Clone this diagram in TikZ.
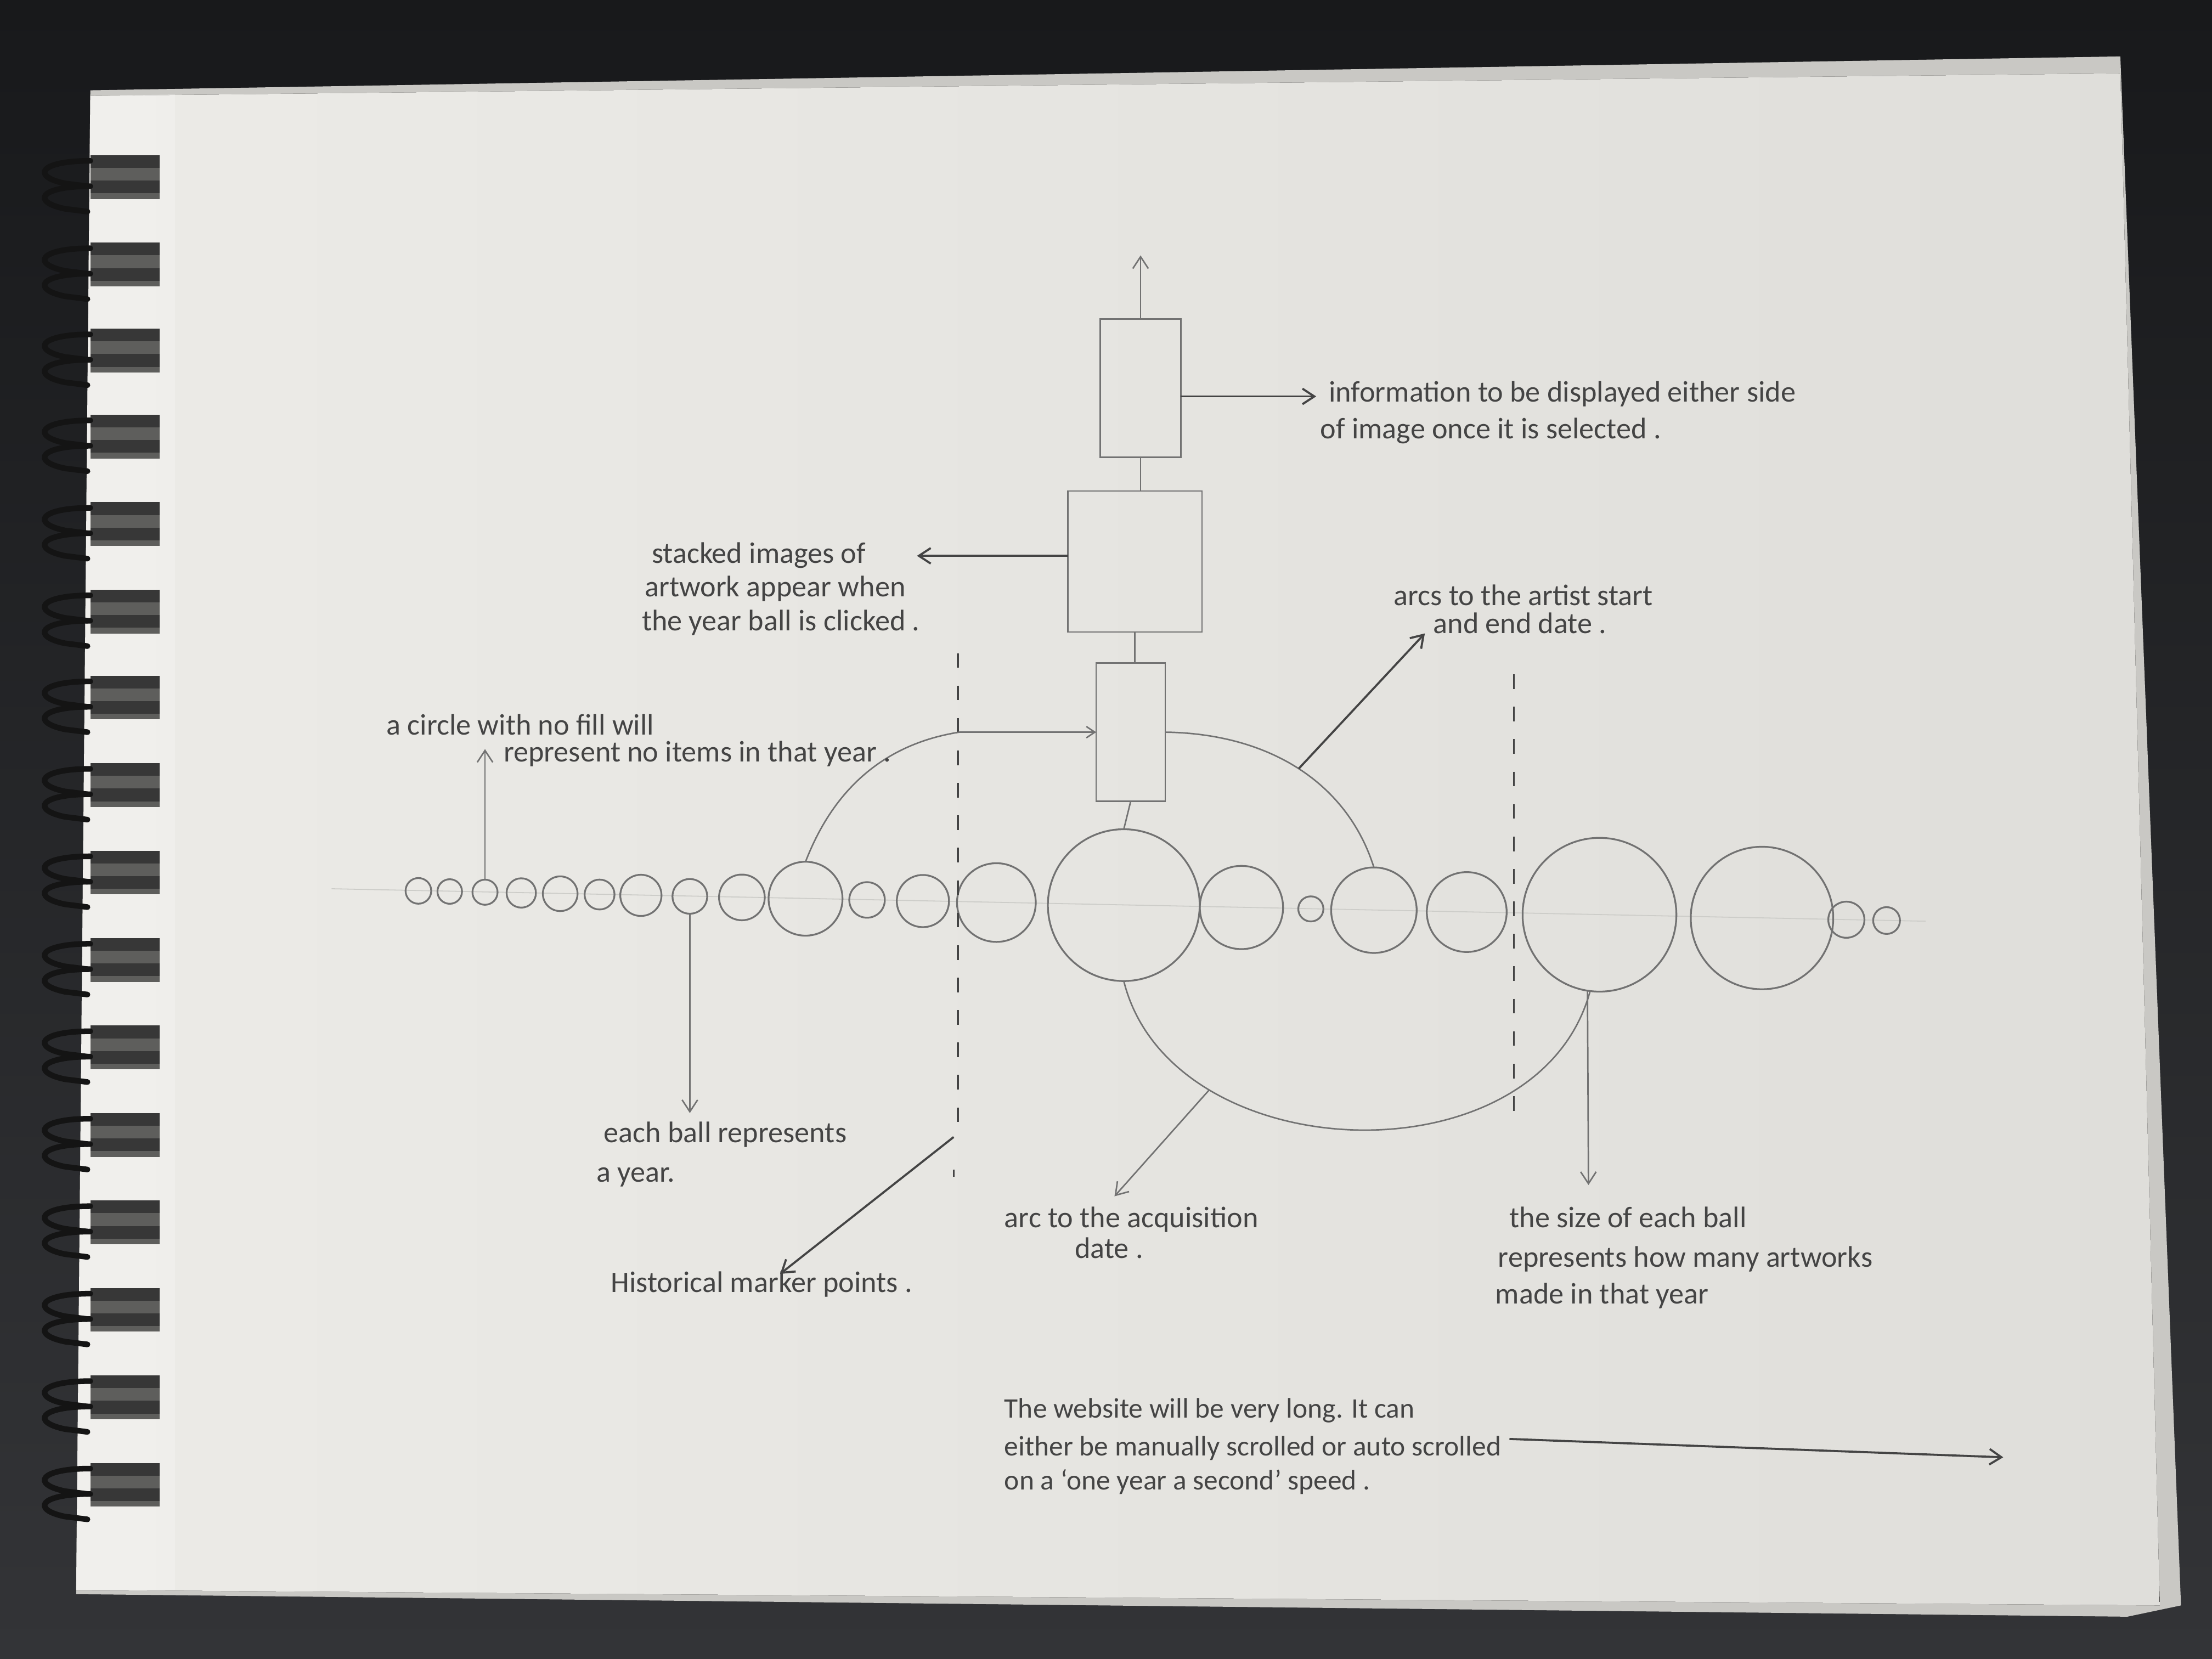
\documentclass[tikz,border=0pt]{standalone}
\usepackage{fontspec}
\setmainfont{Carlito}
\usetikzlibrary{arrows.meta}
\definecolor{deskTop}{HTML}{18191B}
\definecolor{deskBot}{HTML}{333437}
\definecolor{paperL}{HTML}{ECEBE7}
\definecolor{paperR}{HTML}{DFDEDA}
\definecolor{sheet}{HTML}{C9C8C4}
\definecolor{pencil}{HTML}{727272}
\definecolor{ink}{HTML}{444444}
\definecolor{guide}{HTML}{CDCDC9}
\definecolor{wire}{HTML}{141414}
\definecolor{holeshade}{HTML}{5E5E5C}
\begin{document}
\begin{tikzpicture}[x=0.05cm,y=-0.05cm,
  pen/.style={draw=pencil,line width=1.5pt},
  ball/.style={circle,draw=pencil,line width=1.8pt,inner sep=0pt,outer sep=0pt},
  panel/.style={rectangle,draw=pencil,line width=1.5pt,inner sep=0pt,outer sep=0pt},
  lead/.style={draw=ink,line width=2.1pt,-{Straight Barb[length=0.42cm,width=0.55cm]}},
  thinlead/.style={draw=pencil,line width=1.5pt,-{Straight Barb[length=0.42cm,width=0.55cm]}},
  note/.style={anchor=base west,inner sep=0pt,outer sep=0pt,text=ink,font=\fontsize{30}{36}\selectfont},
  smallnote/.style={note,font=\fontsize{28.5}{34}\selectfont},
  marker/.style={draw=ink,line width=1.8pt,dash pattern=on 0.52cm off 0.63cm},
  ringwire/.style={draw=wire,line width=0.2cm,line cap=round}
]
\useasboundingbox (0,0) rectangle (1568,1176);
% desk
\fill[top color=deskTop,bottom color=deskBot] (0,0) rectangle (1568,1176);
% sheets of the pad
\fill[sheet] (64,64) -- (1503,40) -- (1546,1138) -- (1508,1146) -- (54,1130) -- cycle;
\fill[left color=paperL,right color=paperR] (64,68) -- (1503,52) -- (1531,1138) -- (54,1127) -- cycle;
\fill[paperL!60!white,opacity=0.5] (64,68) -- (124,67) -- (124,1127) -- (54,1127) -- cycle;
% spiral binding
\foreach \ry in {113,175,236,297,359,421,482,544,606,668,730,792,854,916,978,1040} {
  \fill[holeshade] (64,\ry) rectangle (113,\ry+28);
  \fill[wire!85] (64,\ry-3) rectangle (113,\ry+6);
  \fill[wire!85] (64,\ry+15) rectangle (113,\ry+24);
  \draw[ringwire] (64,\ry+1) .. controls (28,\ry+1) and (22,\ry+12) .. (46,\ry+17) -- (62,\ry+19);
  \draw[ringwire] (64,\ry+19) .. controls (28,\ry+19) and (22,\ry+30) .. (46,\ry+35) -- (62,\ry+37);
}
% guideline of the timeline
\draw[guide,line width=1pt] (235,630) -- (1365,653);
% year balls
\foreach \n/\bx/\r in {1/296.6/9.1, 2/318.8/8.7, 3/343.8/8.9, 4/369.5/10.4, 5/397.1/12.3,
  6/425.0/10.6, 7/454.3/14.6, 8/489.0/12.3, 9/525.9/16.2, 10/571.0/26.2, 11/614.6/12.6,
  12/654.2/18.5, 13/706.3/27.9, 14/796.6/53.8, 15/880.0/29.5, 16/929.2/8.9, 17/973.9/30.3,
  18/1039.7/28.3, 19/1133.8/54.5, 20/1249.0/50.5, 21/1308.8/12.8, 22/1337.3/9.5} {
  \node[ball,minimum size=\r*0.1cm] (b\n) at (\bx,{631+(\bx-272)*0.0202}) {};
}
% stacked panels
\node[panel,minimum width=2.85cm,minimum height=4.9cm] (info) at (808.5,275) {};
\node[panel,minimum width=4.75cm,minimum height=5cm] (stack) at (804.5,398) {};
\node[panel,minimum width=2.45cm,minimum height=4.9cm] (sel) at (801.5,519) {};
\coordinate (up) at (808.5,181);
\draw[thinlead] (info.north) -- (up);
\draw[pen] (info.south) -- (info.south |- stack.north);
\draw[pen] (stack.south) -- (stack.south |- sel.north);
\draw[pen] (sel.south) -- (b14.north);
% historical marker lines
\coordinate (lmtop) at (679,463);
\coordinate (lmbot) at (679,797);
\coordinate (rmtop) at (1073,478);
\coordinate (rmbot) at (1073,797);
\draw[marker] (lmtop) -- (lmbot);
\draw[marker] (rmtop) -- (rmbot);
\coordinate (dot1) at (676,829);
\coordinate (dot2) at (676,834);
\draw[ink,line width=1.8pt] (dot1) -- (dot2);
% arcs
\draw[pen,-{Straight Barb[length=0.3cm,width=0.4cm]}] (b10.north) .. controls (583,580) and (610,530) .. (680,519) -- (sel.west);
\draw[pen] (sel.east) .. controls (900,520) and (955,555) .. (b17.north) coordinate[pos=0.5] (artpt);
\draw[pen] (b14.south) .. controls (830,830) and (1090,840) .. (b19.-97) coordinate[pos=0.25] (acqpt);
% texts
\node[note] (tinfo1) at (942,285) {information to be displayed either side};
\node[note] (tinfo2) at (936,311) {of image once it is selected .};
\node[note] (tstack1) at (462,399) {stacked images of};
\node[note] (tstack2) at (457,423) {artwork appear when};
\node[note] (tstack3) at (455,447) {the year ball is clicked .};
\node[note] (tcirc1) at (274,521) {a circle with no fill will};
\node[note] (tcirc2) at (357,540) {represent no items in that year .};
\node[note] (tball1) at (428,810) {each ball represents};
\node[note] (tball2) at (423,838) {a year.};
\node[note] (thist) at (433,916) {Historical marker points .};
\node[note] (tacq1) at (712,870) {arc to the acquisition};
\node[note] (tacq2) at (762,892) {date .};
\node[note] (tart1) at (988,429) {arcs to the artist start};
\node[note] (tart2) at (1016,449) {and end date .};
\node[note] (tsize1) at (1070,870) {the size of each ball};
\node[note] (tsize2) at (1062,898) {represents how many artworks};
\node[note] (tsize3) at (1060,924) {made in that year};
\node[smallnote] (tweb1) at (712,1005) {The website will be very long. It can};
\node[smallnote] (tweb2) at (712,1032) {either be manually scrolled or auto scrolled};
\node[smallnote] (tweb3) at (712,1056) {on a `one year a second' speed .};
% annotation arrows
\coordinate (infotip) at (933,281);
\draw[lead] (info.east |- infotip) -- (infotip);
\coordinate (stacktip) at (650,394);
\draw[lead] (stack.west |- stacktip) -- (stacktip);
\coordinate (circtip) at (343.8,531);
\draw[thinlead] (b3.north) -- (circtip);
\coordinate (balltip) at (489,789);
\draw[thinlead] (b8.south) -- (balltip);
\coordinate (histstart) at (676,806);
\coordinate (histtip) at (553,903);
\draw[lead] (histstart) -- (histtip);
\coordinate (acqtip) at (790,848);
\draw[thinlead] (acqpt) -- (acqtip);
\coordinate (arttip) at (1010,449);
\draw[lead] (artpt) -- (arttip);
\coordinate (sizetip) at (1126,840);
\draw[thinlead] (b19.-99) -- (sizetip);
\coordinate (webstart) at (1070,1020);
\coordinate (webtip) at (1420,1033);
\draw[lead] (webstart) -- (webtip);
\end{tikzpicture}
\end{document}
